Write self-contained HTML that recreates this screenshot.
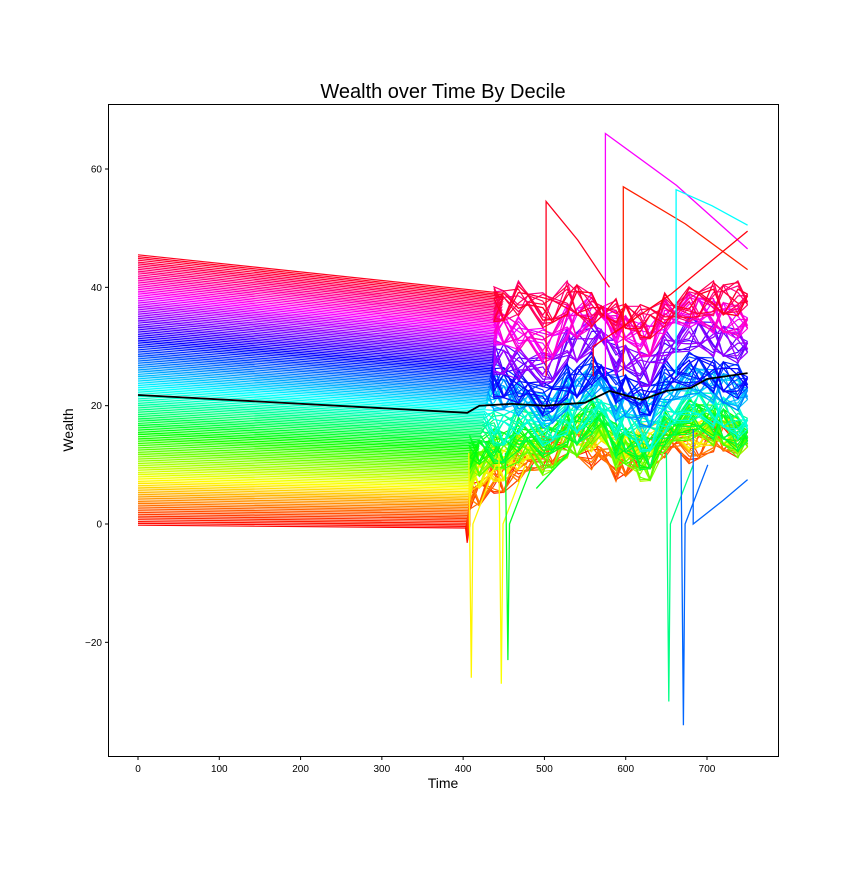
<!DOCTYPE html>
<html><head><meta charset="utf-8"><style>
html,body{margin:0;padding:0;background:#fff;}
svg text{font-family:"Liberation Sans","DejaVu Sans",sans-serif;}
</style></head><body>
<svg id="chart" width="864" height="864" xmlns="http://www.w3.org/2000/svg">
<rect width="864" height="864" fill="#fff"/>
<text x="443" y="98" font-size="20" text-anchor="middle">Wealth over Time By Decile</text>
<g id="plot"></g>
<rect x="108.5" y="104.5" width="670" height="652" fill="none" stroke="#000" stroke-width="1"/>
<g id="ticks"></g>
<text x="443" y="788" font-size="14" text-anchor="middle">Time</text>
<text x="73" y="430" font-size="14" text-anchor="middle" transform="rotate(-90 73 430)">Wealth</text>
</svg>
<script>
const xTicks=[0,100,200,300,400,500,600,700];
const yTicks=[-20,0,20,40,60];
const chaosTimes=[420,450,480,510,540,570,600,630,660,690,720,750];
const decileD1=[5,8,10,12,14,12,10,12,14,13,15,14];
const decileD2=[8,10,12,14,16,15,13,14,16,15,16,15];
const decileD3=[10,12,13,11,14,16,12,10,15,17,16,14];
const decileD4=[12,13,15,14,16,18,14,12,16,18,17,15];
const decileD5=[15,16,18,16,18,20,17,15,18,20,19,17];
const decileD6=[20,22,21,19,22,24,20,19,22,24,23,22];
const decileD7=[25,24,23,21,24,26,23,21,25,26,25,24];
const decileD8=[30,28,27,26,30,32,28,26,30,32,31,30];
const decileD9=[35,33,32,30,34,36,33,31,35,36,35,34];
const decileD10=[38,37,38,36,38,36,35,34,36,37,38,38];
const deciles=[decileD1,decileD2,decileD3,decileD4,decileD5,decileD6,decileD7,decileD8,decileD9,decileD10];
const jitter=[-1.5,2,-0.5,1.2,-2,0.8,1.6,-1.1,0.4,-1.8,2.2,-0.7];
const medianTimes=[0,405,420,460,500,550,580,620,650,680,700,750];
const medianValues=[21.8,18.8,20,20.3,20,20.5,22.5,21,22.5,23,24.5,25.5];
const spikeTimes=[410,447,455,653,671];
const spikeValues=[-26,-27,-23,-30,-34];
const spikeHues=[0.16,0.17,0.36,0.42,0.6];
const jumpStartT=[575,597,502,662,560];
const jumpStartV=[66,57,54.5,56.5,30];
const jumpEndT=[750,750,580,750,750];
const jumpEndV=[46.5,43,40,50.5,49.5];
const jumpHues=[0.83,0.02,0.98,0.5,0.99];
const X=t=>138+t*(707-138)/700;
const Y=v=>524-v*(524-169)/60;
const NS="http://www.w3.org/2000/svg";
const plot=document.getElementById('plot');
function hsv(h){const i=Math.floor(h*6),f=h*6-i,q=1-f;
 const c=[[1,f,0],[q,1,0],[0,1,f],[0,q,1],[f,0,1],[1,0,q]][((i%6)+6)%6];
 return `rgb(${Math.round(c[0]*255)},${Math.round(c[1]*255)},${Math.round(c[2]*255)})`;}
function line(pts,color,name,w){const p=document.createElementNS(NS,'polyline');
 p.setAttribute('points',pts.map(a=>X(a[0]).toFixed(1)+','+Y(a[1]).toFixed(1)).join(' '));
 p.setAttribute('fill','none');p.setAttribute('stroke',color);p.setAttribute('stroke-width',w||1.2);
 
 
 plot.appendChild(p);}
const N=150;
for(let i=0;i<N;i++){
 const frac=i/(N-1);const s=-0.2+45.7*frac;const h=0.98*frac;
 const col=hsv(h);const d=Math.min(9,Math.floor(frac*10));
 const endT=403+frac*47;const endV=s*0.868-0.5;
 const pts=[[0,s],[endT,endV]];
 if(frac<0.08){pts.push([endT+2,endV-2.5]);}
 chaosTimes.forEach((t,k)=>{if(t>endT){pts.push([t-12,deciles[d][k]+jitter[(k+i)%12]*1.4]);pts.push([t,deciles[d][k]-jitter[(k+i*3)%12]*1.2]);}});
 line(pts,col,'decile-line',1.2);
}
spikeTimes.forEach((t,k)=>{line([[t-3,12],[t,spikeValues[k]],[t+2,0],[t+30,10]],hsv(spikeHues[k]),'spike-line',1.3);});
jumpStartT.forEach((t,k)=>{line([[t,25],[t,jumpStartV[k]],[(t+jumpEndT[k])/2,(jumpStartV[k]*0.55+jumpEndV[k]*0.45)],[jumpEndT[k],jumpEndV[k]]],hsv(jumpHues[k]),'jump-line',1.3);});
line([[683,16],[683,0],[720,4],[750,7.5]],hsv(0.6),'recovery-line',1.3);
line([[490,6],[530,12]],hsv(0.36),'recovery-line',1.3);
line(medianTimes.map((t,k)=>[t,medianValues[k]]),'#000','median-line',1.8);
const tk=document.getElementById('ticks');
function add(tag,attrs,txt,name){const e=document.createElementNS(NS,tag);for(const a in attrs)e.setAttribute(a,attrs[a]);if(txt!=null)e.textContent=txt;
 
 
 tk.appendChild(e);}
xTicks.forEach(t=>{add('line',{x1:X(t),x2:X(t),y1:756.5,y2:760,stroke:'#000'},null,'x-tick');
 add('text',{x:X(t),y:772,'font-size':10,'text-anchor':'middle'},String(t),'x-tick-label');});
yTicks.forEach(v=>{add('line',{x1:105,x2:108.5,y1:Y(v),y2:Y(v),stroke:'#000'},null,'y-tick');
 add('text',{x:102,y:Y(v)+3.5,'font-size':10,'text-anchor':'end'},v<0?'\u2212'+(-v):String(v),'y-tick-label');});
</script>
</body></html>
